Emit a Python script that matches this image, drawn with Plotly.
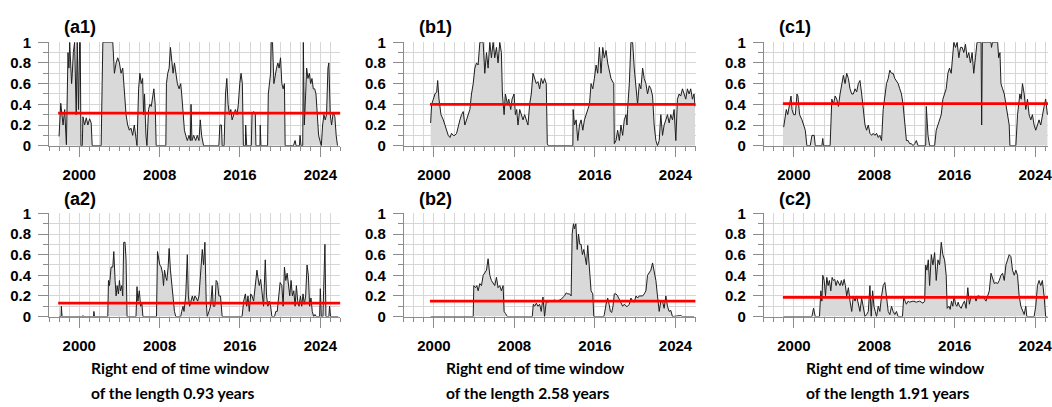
import plotly.graph_objects as go

# ---------------- data ----------------
# (year, value) samples of each panel
series_a1 = [
    (1997.99, 0.09), (1998.16, 0.41), (1998.39, 0.20), (1998.55, 0.35), (1998.72, 0.01),
    (1998.88, 0.90), (1998.97, 0.75), (1999.05, 1.00), (1999.14, 0.80), (1999.24, 0.60),
    (1999.31, 0.70), (1999.41, 0.90), (1999.54, 1.00), (1999.70, 0.30), (1999.80, 1.00),
    (1999.93, 0.35), (2000.04, 1.00), (2000.10, 1.00), (2000.17, 0.00), (2000.30, 0.00),
    (2000.37, 0.28), (2000.53, 0.20), (2000.70, 0.27), (2000.86, 0.20), (2001.03, 0.26),
    (2001.19, 0.22), (2001.29, 0.00), (2002.18, 0.00), (2002.28, 0.60), (2002.35, 1.00),
    (2003.34, 1.00), (2003.50, 0.70), (2003.67, 0.80), (2003.83, 0.85), (2004.00, 0.80),
    (2004.16, 0.70), (2004.33, 0.75), (2004.49, 0.50), (2004.66, 0.30), (2004.82, 0.20),
    (2004.99, 0.15), (2005.15, 0.17), (2005.32, 0.10), (2005.48, 0.20), (2005.65, 0.05),
    (2005.75, 0.00), (2005.91, 0.55), (2006.04, 0.70), (2006.17, 0.60), (2006.31, 0.65),
    (2006.41, 0.30), (2006.50, 0.50), (2006.64, 0.10), (2006.74, 0.00), (2006.90, 0.35),
    (2007.03, 0.40), (2007.17, 0.38), (2007.30, 0.45), (2007.43, 0.55), (2007.56, 0.40),
    (2007.66, 0.00), (2008.62, 0.00), (2008.68, 0.60), (2008.81, 0.70), (2008.95, 0.75),
    (2009.08, 0.95), (2009.21, 0.85), (2009.34, 0.70), (2009.48, 0.80), (2009.61, 0.72),
    (2009.77, 0.60), (2009.94, 0.55), (2010.10, 0.60), (2010.20, 0.50), (2010.33, 0.30),
    (2010.47, 0.15), (2010.60, 0.10), (2010.76, 0.05), (2010.93, 0.10), (2011.06, 0.05),
    (2011.13, 0.40), (2011.22, 0.05), (2011.39, 0.10), (2011.59, 0.05), (2011.75, 0.10),
    (2011.92, 0.05), (2012.05, 0.25), (2012.18, 0.10), (2012.38, 0.00), (2013.90, 0.00),
    (2014.00, 0.20), (2014.16, 0.20), (2014.23, 0.00), (2014.42, 0.00), (2014.56, 0.50),
    (2014.69, 0.65), (2014.82, 0.40), (2014.95, 0.30), (2015.09, 0.35), (2015.22, 0.25),
    (2015.38, 0.30), (2015.55, 0.35), (2015.71, 0.30), (2015.84, 0.40), (2015.98, 0.60),
    (2016.11, 0.70), (2016.24, 0.60), (2016.34, 0.00), (2016.54, 0.00), (2016.57, 0.20),
    (2016.67, 0.00), (2017.13, 0.00), (2017.20, 0.30), (2017.36, 0.33), (2017.53, 0.30),
    (2017.59, 0.00), (2017.99, 0.00), (2018.02, 0.20), (2018.09, 0.00), (2018.75, 0.00),
    (2018.82, 0.50), (2018.95, 0.60), (2019.05, 0.70), (2019.11, 1.00), (2019.24, 1.00),
    (2019.38, 0.60), (2019.51, 0.70), (2019.64, 0.75), (2019.77, 0.80), (2019.90, 0.75),
    (2020.04, 0.85), (2020.17, 0.60), (2020.30, 0.55), (2020.43, 0.60), (2020.50, 0.00),
    (2021.32, 0.00), (2021.49, 0.05), (2021.59, 0.00), (2021.92, 0.00), (2021.98, 0.10),
    (2022.08, 0.00), (2022.25, 0.00), (2022.31, 1.00), (2022.41, 0.20), (2022.54, 0.50),
    (2022.64, 0.75), (2022.77, 0.65), (2022.91, 0.70), (2023.04, 0.60), (2023.17, 0.65),
    (2023.30, 0.55), (2023.44, 0.55), (2023.57, 0.50), (2023.70, 0.30), (2023.83, 0.10),
    (2023.96, 0.05), (2024.10, 0.00), (2024.23, 0.20), (2024.36, 0.30), (2024.49, 0.25),
    (2024.62, 0.30), (2024.76, 0.75), (2024.85, 0.80), (2024.99, 0.30), (2025.12, 0.20),
    (2025.28, 0.32), (2025.45, 0.28), (2025.58, 0.10), (2025.71, 0.00),
]

series_b1 = [
    (1999.67, 0.22), (1999.77, 0.40), (1999.94, 0.45), (2000.10, 0.50), (2000.27, 0.52),
    (2000.37, 0.63), (2000.50, 0.45), (2000.70, 0.30), (2000.93, 0.25), (2001.09, 0.20),
    (2001.26, 0.15), (2001.42, 0.10), (2001.59, 0.08), (2001.75, 0.12), (2001.92, 0.10),
    (2002.08, 0.10), (2002.25, 0.12), (2002.41, 0.20), (2002.58, 0.25), (2002.74, 0.30),
    (2002.91, 0.33), (2003.07, 0.20), (2003.24, 0.25), (2003.40, 0.30), (2003.57, 0.35),
    (2003.73, 0.50), (2003.90, 0.60), (2004.06, 0.75), (2004.23, 0.80), (2004.39, 0.78),
    (2004.56, 1.00), (2004.72, 1.00), (2004.89, 1.00), (2005.05, 0.70), (2005.22, 0.90),
    (2005.38, 0.75), (2005.55, 1.00), (2005.71, 0.85), (2005.88, 1.00), (2006.04, 0.85),
    (2006.21, 0.95), (2006.37, 0.80), (2006.54, 1.00), (2006.70, 0.90), (2006.80, 0.50),
    (2006.97, 0.30), (2007.10, 0.50), (2007.30, 0.40), (2007.43, 0.45), (2007.63, 0.35),
    (2007.76, 0.45), (2007.96, 0.50), (2008.09, 0.30), (2008.22, 0.35), (2008.35, 0.20),
    (2008.52, 0.35), (2008.68, 0.30), (2008.85, 0.25), (2009.01, 0.30), (2009.18, 0.25),
    (2009.34, 0.20), (2009.51, 0.40), (2009.67, 0.50), (2009.84, 0.70), (2010.00, 0.65),
    (2010.17, 0.60), (2010.33, 0.62), (2010.50, 0.55), (2010.66, 0.65), (2010.83, 0.60),
    (2010.99, 0.65), (2011.16, 0.60), (2011.26, 0.02), (2011.36, 0.00), (2013.80, 0.00),
    (2013.83, 0.35), (2013.96, 0.20), (2014.13, 0.25), (2014.29, 0.05), (2014.46, 0.20),
    (2014.62, 0.25), (2014.79, 0.15), (2014.95, 0.25), (2015.12, 0.30), (2015.28, 0.35),
    (2015.45, 0.40), (2015.61, 0.60), (2015.78, 0.55), (2015.94, 0.65), (2016.11, 0.78),
    (2016.27, 0.70), (2016.44, 0.95), (2016.60, 0.70), (2016.77, 0.95), (2016.93, 0.85),
    (2017.10, 0.92), (2017.26, 0.80), (2017.43, 0.70), (2017.59, 0.65), (2017.86, 0.60),
    (2017.92, 0.02), (2018.09, 0.05), (2018.25, 0.15), (2018.42, 0.05), (2018.58, 0.20),
    (2018.75, 0.10), (2018.91, 0.25), (2019.08, 0.30), (2019.18, 0.20), (2019.24, 0.35),
    (2019.41, 0.60), (2019.57, 1.00), (2019.74, 1.00), (2019.90, 0.75), (2020.07, 0.55),
    (2020.23, 0.40), (2020.40, 0.60), (2020.56, 0.55), (2020.73, 0.75), (2020.89, 0.65),
    (2021.06, 0.60), (2021.22, 0.50), (2021.39, 0.58), (2021.55, 0.55), (2021.72, 0.48),
    (2021.88, 0.20), (2022.05, 0.05), (2022.21, 0.00), (2022.38, 0.05), (2022.54, 0.30),
    (2022.71, 0.10), (2022.87, 0.20), (2023.04, 0.25), (2023.20, 0.30), (2023.37, 0.22),
    (2023.53, 0.30), (2023.70, 0.25), (2023.86, 0.35), (2024.03, 0.05), (2024.19, 0.45),
    (2024.36, 0.50), (2024.52, 0.48), (2024.69, 0.55), (2024.85, 0.50), (2025.02, 0.45),
    (2025.18, 0.55), (2025.35, 0.50), (2025.51, 0.55), (2025.68, 0.45), (2025.84, 0.50),
    (2025.94, 0.38),
]

series_c1 = [
    (1998.98, 0.18), (1999.08, 0.25), (1999.24, 0.35), (1999.38, 0.30), (1999.57, 0.42),
    (1999.71, 0.48), (1999.81, 0.35), (1999.97, 0.30), (2000.14, 0.30), (2000.30, 0.50),
    (2000.40, 0.48), (2000.56, 0.30), (2000.80, 0.25), (2000.96, 0.20), (2001.13, 0.15),
    (2001.29, 0.00), (2001.62, 0.00), (2001.79, 0.10), (2002.02, 0.10), (2002.12, 0.00),
    (2002.78, 0.00), (2002.87, 0.07), (2002.94, 0.00), (2003.60, 0.00), (2003.77, 0.45),
    (2003.93, 0.40), (2004.10, 0.48), (2004.26, 0.45), (2004.43, 0.38), (2004.59, 0.50),
    (2004.76, 0.62), (2004.92, 0.68), (2005.09, 0.60), (2005.25, 0.70), (2005.42, 0.65),
    (2005.58, 0.55), (2005.75, 0.50), (2005.91, 0.50), (2006.08, 0.55), (2006.24, 0.52),
    (2006.41, 0.60), (2006.57, 0.63), (2006.74, 0.50), (2006.90, 0.35), (2007.07, 0.20),
    (2007.23, 0.15), (2007.40, 0.20), (2007.56, 0.12), (2007.73, 0.10), (2007.89, 0.12),
    (2008.06, 0.10), (2008.22, 0.12), (2008.39, 0.08), (2008.55, 0.10), (2008.72, 0.05),
    (2008.88, 0.35), (2009.05, 0.50), (2009.21, 0.60), (2009.38, 0.65), (2009.54, 0.73),
    (2009.71, 0.70), (2009.87, 0.70), (2010.04, 0.65), (2010.20, 0.62), (2010.37, 0.60),
    (2010.53, 0.55), (2010.70, 0.50), (2010.86, 0.40), (2011.03, 0.20), (2011.19, 0.05),
    (2011.36, 0.05), (2011.52, 0.02), (2011.69, 0.02), (2011.85, 0.00), (2012.02, 0.02),
    (2012.18, 0.05), (2012.35, 0.00), (2013.11, 0.00), (2013.17, 0.38), (2013.34, 0.10),
    (2013.50, 0.00), (2014.00, 0.00), (2014.16, 0.15), (2014.33, 0.20), (2014.49, 0.25),
    (2014.66, 0.30), (2014.82, 0.45), (2014.99, 0.50), (2015.15, 0.55), (2015.32, 0.70),
    (2015.48, 0.75), (2015.65, 0.70), (2015.81, 0.90), (2015.91, 1.00), (2016.08, 0.95),
    (2016.24, 1.00), (2016.41, 0.85), (2016.57, 0.95), (2016.74, 0.95), (2016.90, 0.90),
    (2017.07, 0.98), (2017.23, 0.85), (2017.40, 0.90), (2017.56, 0.80), (2017.73, 0.90),
    (2017.89, 0.70), (2018.06, 0.85), (2018.22, 1.00), (2018.62, 1.00), (2018.68, 0.20),
    (2018.75, 1.00), (2019.60, 1.00), (2019.66, 0.95), (2019.75, 1.00), (2020.27, 1.00),
    (2020.37, 0.85), (2020.50, 0.90), (2020.60, 0.60), (2020.76, 0.55), (2020.93, 0.50),
    (2021.09, 0.40), (2021.26, 0.30), (2021.42, 0.20), (2021.49, 0.00), (2022.08, 0.00),
    (2022.25, 0.30), (2022.35, 0.40), (2022.48, 0.50), (2022.61, 0.45), (2022.74, 0.60),
    (2022.91, 0.50), (2023.07, 0.35), (2023.24, 0.45), (2023.40, 0.30), (2023.57, 0.25),
    (2023.73, 0.30), (2023.90, 0.20), (2024.06, 0.15), (2024.23, 0.20), (2024.39, 0.25),
    (2024.56, 0.20), (2024.72, 0.30), (2024.89, 0.38), (2025.05, 0.45), (2025.22, 0.30),
]

series_a2 = [
    (1997.99, 0.00), (1998.19, 0.00), (1998.22, 0.10), (1998.29, 0.00), (2000.33, 0.00),
    (2000.37, 0.01), (2000.43, 0.00), (2001.42, 0.00), (2001.46, 0.05), (2001.52, 0.00),
    (2002.84, 0.00), (2002.91, 0.35), (2003.01, 0.30), (2003.17, 0.48), (2003.34, 0.48),
    (2003.44, 0.63), (2003.57, 0.35), (2003.67, 0.20), (2003.77, 0.30), (2003.90, 0.22),
    (2004.00, 0.35), (2004.10, 0.25), (2004.23, 0.30), (2004.33, 0.20), (2004.43, 0.72),
    (2004.56, 0.72), (2004.66, 0.55), (2004.76, 0.00), (2005.65, 0.00), (2005.75, 0.29),
    (2005.84, 0.15), (2005.98, 0.25), (2006.11, 0.10), (2006.24, 0.12), (2006.34, 0.00),
    (2007.69, 0.00), (2007.79, 0.63), (2007.89, 0.55), (2008.02, 0.50), (2008.16, 0.48),
    (2008.29, 0.42), (2008.39, 0.30), (2008.49, 0.45), (2008.62, 0.38), (2008.72, 0.35),
    (2008.85, 0.48), (2008.95, 0.66), (2009.08, 0.45), (2009.21, 0.30), (2009.34, 0.20),
    (2009.48, 0.05), (2009.61, 0.00), (2010.10, 0.00), (2010.20, 0.05), (2010.33, 0.10),
    (2010.43, 0.05), (2010.60, 0.20), (2010.76, 0.60), (2010.86, 0.20), (2010.99, 0.10),
    (2011.13, 0.15), (2011.26, 0.20), (2011.39, 0.15), (2011.52, 0.20), (2011.65, 0.18),
    (2011.79, 0.15), (2011.92, 0.20), (2012.08, 0.45), (2012.25, 0.65), (2012.38, 0.50),
    (2012.51, 0.72), (2012.64, 0.15), (2012.74, 0.00), (2012.91, 0.05), (2013.07, 0.10),
    (2013.24, 0.30), (2013.34, 0.10), (2013.50, 0.10), (2013.63, 0.35), (2013.77, 0.33),
    (2013.90, 0.20), (2014.06, 0.20), (2014.23, 0.00), (2016.21, 0.00), (2016.37, 0.15),
    (2016.54, 0.22), (2016.67, 0.10), (2016.80, 0.20), (2016.93, 0.05), (2017.07, 0.22),
    (2017.20, 0.20), (2017.36, 0.15), (2017.53, 0.28), (2017.69, 0.45), (2017.79, 0.38),
    (2017.92, 0.30), (2018.06, 0.36), (2018.19, 0.25), (2018.35, 0.10), (2018.52, 0.55),
    (2018.65, 0.20), (2018.78, 0.10), (2018.91, 0.15), (2019.05, 0.10), (2019.18, 0.00),
    (2019.44, 0.00), (2019.57, 0.05), (2019.71, 0.05), (2019.84, 0.15), (2020.00, 0.33),
    (2020.17, 0.30), (2020.30, 0.10), (2020.43, 0.48), (2020.56, 0.35), (2020.70, 0.42),
    (2020.83, 0.30), (2020.96, 0.20), (2021.09, 0.35), (2021.22, 0.20), (2021.36, 0.25),
    (2021.49, 0.10), (2021.62, 0.30), (2021.75, 0.15), (2021.88, 0.10), (2022.02, 0.20),
    (2022.15, 0.10), (2022.28, 0.22), (2022.41, 0.12), (2022.54, 0.20), (2022.68, 0.50),
    (2022.81, 0.40), (2022.94, 0.10), (2023.07, 0.18), (2023.20, 0.05), (2023.34, 0.00),
    (2023.47, 0.02), (2023.60, 0.00), (2023.93, 0.00), (2024.00, 0.27), (2024.10, 0.00),
    (2024.26, 0.00), (2024.33, 0.25), (2024.46, 0.70), (2024.56, 0.00), (2024.85, 0.00),
    (2024.92, 0.10), (2025.02, 0.00), (2025.78, 0.00),
]

series_b2 = [
    (1999.67, 0.00), (2003.90, 0.00), (2003.96, 0.30), (2004.13, 0.28), (2004.26, 0.30),
    (2004.39, 0.25), (2004.56, 0.32), (2004.72, 0.30), (2004.89, 0.40), (2005.05, 0.42),
    (2005.22, 0.45), (2005.38, 0.56), (2005.55, 0.40), (2005.71, 0.35), (2005.88, 0.32),
    (2006.04, 0.30), (2006.21, 0.38), (2006.37, 0.28), (2006.54, 0.30), (2006.70, 0.25),
    (2006.87, 0.30), (2006.97, 0.05), (2007.10, 0.03), (2007.30, 0.00), (2009.77, 0.00),
    (2009.87, 0.12), (2010.00, 0.10), (2010.17, 0.13), (2010.33, 0.10), (2010.50, 0.12),
    (2010.66, 0.05), (2010.83, 0.19), (2010.99, 0.00), (2011.16, 0.15), (2011.32, 0.14),
    (2011.49, 0.15), (2011.65, 0.15), (2011.98, 0.16), (2012.31, 0.15), (2012.64, 0.17),
    (2012.97, 0.20), (2013.14, 0.23), (2013.30, 0.22), (2013.47, 0.22), (2013.63, 0.20),
    (2013.73, 0.80), (2013.86, 0.90), (2013.96, 0.85), (2014.10, 0.90), (2014.23, 0.65),
    (2014.36, 0.80), (2014.49, 0.70), (2014.62, 0.70), (2014.75, 0.60), (2014.89, 0.65),
    (2015.02, 0.55), (2015.15, 0.50), (2015.28, 0.69), (2015.45, 0.40), (2015.61, 0.25),
    (2015.78, 0.22), (2015.88, 0.00), (2016.87, 0.00), (2016.93, 0.02), (2017.10, 0.12),
    (2017.26, 0.18), (2017.40, 0.12), (2017.53, 0.05), (2017.66, 0.04), (2017.79, 0.10),
    (2017.92, 0.22), (2018.09, 0.22), (2018.25, 0.20), (2018.42, 0.17), (2018.58, 0.14),
    (2018.75, 0.10), (2018.91, 0.12), (2019.08, 0.10), (2019.24, 0.10), (2019.41, 0.12),
    (2019.57, 0.18), (2019.74, 0.15), (2019.90, 0.14), (2020.07, 0.20), (2020.23, 0.18),
    (2020.40, 0.20), (2020.56, 0.20), (2020.73, 0.20), (2020.89, 0.22), (2021.06, 0.25),
    (2021.22, 0.40), (2021.39, 0.42), (2021.55, 0.45), (2021.72, 0.52), (2021.88, 0.42),
    (2022.05, 0.35), (2022.21, 0.20), (2022.38, 0.05), (2022.54, 0.15), (2022.71, 0.15),
    (2022.87, 0.08), (2023.04, 0.20), (2023.20, 0.10), (2023.37, 0.05), (2023.53, 0.06),
    (2023.70, 0.00), (2024.52, 0.01), (2024.69, 0.00), (2025.84, 0.00),
]

series_c2 = [
    (1998.98, 0.00), (2001.79, 0.00), (2001.95, 0.08), (2002.12, 0.00), (2002.54, 0.00),
    (2002.68, 0.25), (2002.78, 0.15), (2002.87, 0.40), (2003.01, 0.35), (2003.14, 0.20),
    (2003.27, 0.38), (2003.40, 0.30), (2003.53, 0.35), (2003.67, 0.25), (2003.80, 0.38),
    (2003.93, 0.35), (2004.06, 0.36), (2004.19, 0.30), (2004.33, 0.35), (2004.46, 0.32),
    (2004.59, 0.30), (2004.72, 0.35), (2004.85, 0.30), (2004.99, 0.36), (2005.12, 0.30),
    (2005.25, 0.20), (2005.42, 0.28), (2005.58, 0.15), (2005.75, 0.05), (2005.91, 0.20),
    (2006.08, 0.15), (2006.24, 0.20), (2006.41, 0.10), (2006.57, 0.05), (2006.74, 0.18),
    (2006.90, 0.10), (2007.07, 0.00), (2007.23, 0.02), (2007.40, 0.05), (2007.56, 0.30),
    (2007.69, 0.00), (2007.83, 0.25), (2007.96, 0.10), (2008.09, 0.05), (2008.22, 0.00),
    (2008.39, 0.10), (2008.55, 0.05), (2008.72, 0.20), (2008.88, 0.30), (2009.05, 0.33),
    (2009.21, 0.20), (2009.38, 0.05), (2009.54, 0.02), (2009.71, 0.10), (2009.87, 0.05),
    (2010.04, 0.02), (2010.20, 0.05), (2010.37, 0.00), (2010.80, 0.00), (2010.93, 0.20),
    (2011.06, 0.15), (2011.19, 0.12), (2011.36, 0.15), (2011.52, 0.14), (2011.85, 0.15),
    (2012.18, 0.14), (2012.51, 0.15), (2012.84, 0.13), (2013.01, 0.15), (2013.11, 0.50),
    (2013.24, 0.45), (2013.37, 0.55), (2013.50, 0.30), (2013.67, 0.60), (2013.83, 0.50),
    (2014.00, 0.62), (2014.16, 0.35), (2014.33, 0.55), (2014.49, 0.50), (2014.66, 0.72),
    (2014.82, 0.60), (2014.99, 0.55), (2015.15, 0.40), (2015.25, 0.08), (2015.42, 0.10),
    (2015.55, 0.07), (2015.68, 0.15), (2015.81, 0.10), (2015.94, 0.20), (2016.08, 0.12),
    (2016.21, 0.10), (2016.34, 0.14), (2016.47, 0.10), (2016.64, 0.08), (2016.80, 0.12),
    (2016.97, 0.15), (2017.13, 0.08), (2017.30, 0.28), (2017.46, 0.12), (2017.63, 0.20),
    (2017.79, 0.18), (2017.96, 0.20), (2018.12, 0.15), (2018.29, 0.20), (2018.45, 0.20),
    (2018.62, 0.18), (2018.78, 0.20), (2018.95, 0.18), (2019.11, 0.15), (2019.28, 0.20),
    (2019.44, 0.25), (2019.61, 0.42), (2019.77, 0.38), (2019.94, 0.32), (2020.10, 0.33),
    (2020.27, 0.32), (2020.43, 0.35), (2020.60, 0.40), (2020.76, 0.42), (2020.93, 0.35),
    (2021.09, 0.50), (2021.26, 0.55), (2021.42, 0.60), (2021.59, 0.58), (2021.75, 0.45),
    (2021.92, 0.40), (2022.08, 0.45), (2022.25, 0.40), (2022.41, 0.20), (2022.58, 0.10),
    (2022.74, 0.05), (2022.91, 0.02), (2023.07, 0.10), (2023.17, 0.00), (2023.90, 0.00),
    (2024.06, 0.10), (2024.23, 0.30), (2024.39, 0.35), (2024.56, 0.30), (2024.72, 0.35),
    (2024.89, 0.20), (2025.05, 0.00), (2025.22, 0.00),
]

# red reference level and its time span for each panel
mean_level = {"a1": 0.315, "b1": 0.40, "c1": 0.407, "a2": 0.13, "b2": 0.149, "c2": 0.186}
mean_span = {"a1": (1997.9, 2026.0), "b1": (1999.6, 2026.0), "c1": (1998.9, 2025.3),
             "a2": (1997.9, 2026.0), "b2": (1999.6, 2026.0), "c2": (1998.9, 2025.3)}

panel_labels = ["(a1)", "(b1)", "(c1)", "(a2)", "(b2)", "(c2)"]
window_lengths = ["0.93", "2.58", "1.91"]
x_tick_vals = [2000, 2008, 2016, 2024]
x_tick_text = ["2000", "2008", "2016", "2024"]
y_tick_vals = [0, 0.2, 0.4, 0.6, 0.8, 1.0]
y_tick_text = ["0", "0.2", "0.4", "0.6", "0.8", "1"]

# ---------------- layout geometry ----------------
W, H = 1052, 407
col_px = [(49.3, 341.7), (405.3, 698.3), (766.7, 1052.0)]
col_range = [(1997, 2026), (1997, 2026), (1997, 2025.28)]
row_px = [(34.7, 142.7), (213.3, 321.0)]

GRID = "#d6d6d6"
AXIS = "#8c8c8c"
SANS = "Arial, 'Liberation Sans', sans-serif"
TICKFONT = dict(family=SANS, size=15, color="black", weight="bold")

series = {"a1": series_a1, "b1": series_b1, "c1": series_c1,
          "a2": series_a2, "b2": series_b2, "c2": series_c2}
keys = ["a1", "b1", "c1", "a2", "b2", "c2"]

fig = go.Figure()
layout = dict(width=W, height=H, margin=dict(l=0, r=0, t=0, b=0),
              paper_bgcolor="white", plot_bgcolor="white", showlegend=False)
annotations = []

for i, key in enumerate(keys):
    row, col = divmod(i, 3)
    n = i + 1
    xa = "x" if n == 1 else f"x{n}"
    ya = "y" if n == 1 else f"y{n}"
    xs = [p[0] for p in series[key]]
    ys = [p[1] for p in series[key]]
    fig.add_trace(go.Scatter(x=xs, y=ys, mode="lines", fill="tozeroy",
                             fillcolor="#d9d9d9", line=dict(color="#1e1e1e", width=1),
                             xaxis=xa, yaxis=ya, hoverinfo="skip"))
    s0, s1 = mean_span[key]
    fig.add_trace(go.Scatter(x=[s0, s1], y=[mean_level[key]] * 2, mode="lines",
                             line=dict(color="#ff0000", width=2.8),
                             xaxis=xa, yaxis=ya, hoverinfo="skip"))

    x0, x1 = col_px[col]
    y0, y1 = row_px[row]
    xname = "xaxis" if n == 1 else f"xaxis{n}"
    yname = "yaxis" if n == 1 else f"yaxis{n}"
    layout[xname] = dict(
        domain=[x0 / W, min(x1 / W, 1.0)], anchor=ya, range=list(col_range[col]),
        tickmode="array", tickvals=x_tick_vals, ticktext=x_tick_text,
        ticks="outside", ticklen=10, tickcolor=AXIS, tickwidth=1,
        showgrid=True, gridcolor=GRID, gridwidth=1,
        showline=True, linecolor=AXIS, linewidth=1, zeroline=False,
        tickfont=TICKFONT, ticklabelstandoff=5, ticklabeloverflow="allow",
        minor=dict(dtick=1, tick0=1997, ticks="outside", ticklen=4, tickcolor=AXIS,
                   showgrid=True, gridcolor=GRID, gridwidth=1),
        fixedrange=True,
    )
    layout[yname] = dict(
        domain=[1 - y1 / H, 1 - y0 / H], anchor=xa, range=[0, 1],
        tickmode="array", tickvals=y_tick_vals, ticktext=y_tick_text,
        ticks="outside", ticklen=10, tickcolor=AXIS, tickwidth=1,
        showgrid=True, gridcolor=GRID, gridwidth=1,
        showline=True, linecolor=AXIS, linewidth=1, zeroline=False,
        tickfont=TICKFONT, ticklabelstandoff=4,
        minor=dict(dtick=0.1, tick0=0, ticks="outside", ticklen=5, tickcolor=AXIS,
                   showgrid=True, gridcolor=GRID, gridwidth=1),
        fixedrange=True,
    )
    # panel label
    title_left = [62.7, 418.3, 780.0][col]
    title_mid = [18.3, 198.3][row]
    annotations.append(dict(text=panel_labels[i], xref="paper", yref="paper",
                            x=title_left / W, y=1 - title_mid / H, xanchor="left", yanchor="middle",
                            showarrow=False,
                            font=dict(family=SANS, size=18, color="black", weight="bold")))

# x-axis captions under the bottom row
for col in range(3):
    left = col_px[col][0] + 40
    for line, mid in (("Right end of time window", 375.0),
                      (f"of the length {window_lengths[col]} years", 400.5)):
        annotations.append(dict(text=line, xref="paper", yref="paper",
                                x=left / W, y=1 - mid / H, xanchor="left", yanchor="middle",
                                showarrow=False, align="left",
                                font=dict(family="Lato, Carlito, sans-serif", size=15.6,
                                          color="black", weight="bold")))

layout["annotations"] = annotations
fig.update_layout(**layout)
fig.write_html("out.html")
